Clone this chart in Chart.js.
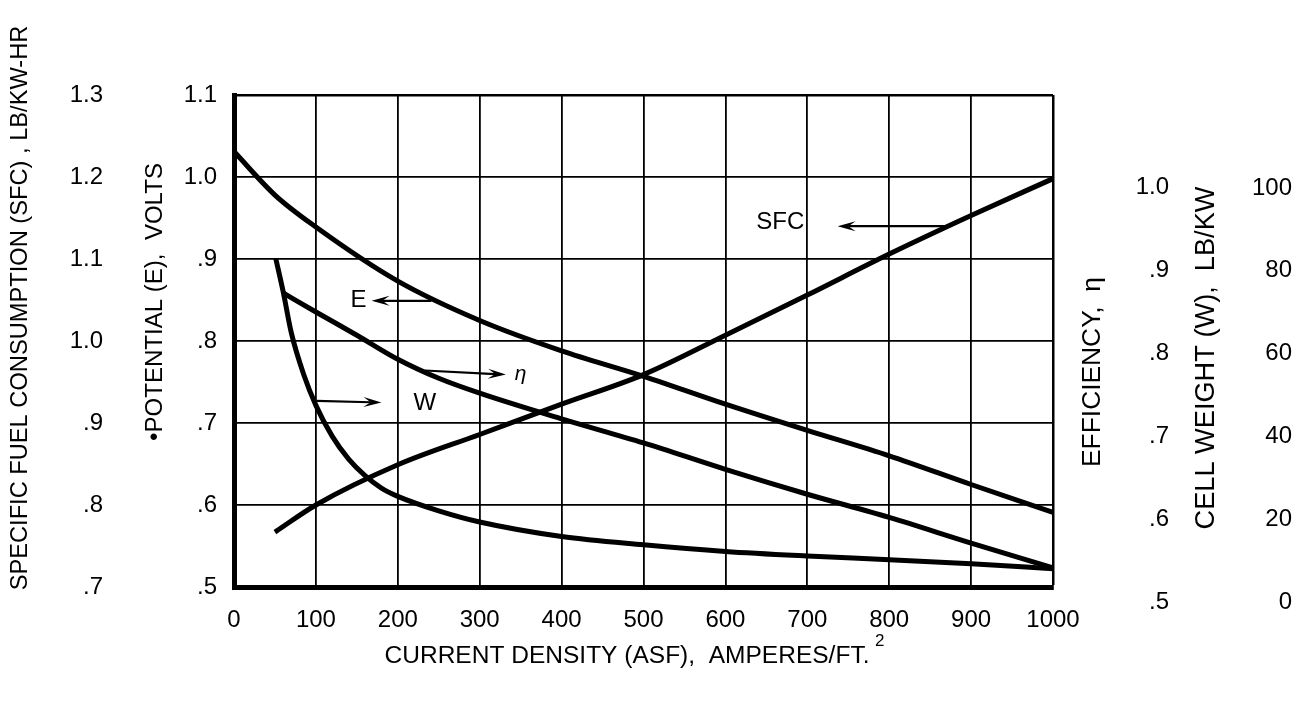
<!DOCTYPE html>
<html>
<head>
<meta charset="utf-8">
<script src="https://cdn.jsdelivr.net/npm/chart.js@4.4.1/dist/chart.umd.min.js"></script>
<style>
  html, body { margin: 0; padding: 0; background: #fff; }
  #wrap { width: 1303px; height: 704px; }
</style>
</head>
<body>
<div id="wrap"><canvas id="chart" width="1303" height="704"></canvas></div>
<script>
// current density (ASF) and the four curves
const asfE = [0, 50, 100, 200, 300, 400, 500, 600, 700, 800, 900, 1000];
const potentialE = [1.031, 0.978, 0.939, 0.873, 0.825, 0.788, 0.757, 0.723, 0.691, 0.660, 0.625, 0.591];

const asfSfc = [50, 100, 200, 300, 400, 500, 600, 700, 800, 900, 1000];
const sfcVals = [0.767, 0.800, 0.849, 0.886, 0.923, 0.959, 1.007, 1.056, 1.106, 1.153, 1.198];

const asfEff = [60, 100, 150, 200, 250, 300, 400, 500, 600, 700, 800, 900, 1000];
const effVals = [0.873, 0.850, 0.822, 0.793, 0.770, 0.752, 0.721, 0.692, 0.660, 0.630, 0.602, 0.571, 0.541];

const asfW = [51, 60, 70, 85, 100, 120, 140, 160, 180, 200, 250, 300, 400, 500, 600, 700, 800, 900, 1000];
const weightVals = [83, 75, 65, 55, 47.5, 40, 34.5, 30.5, 27.5, 25.5, 22, 19.3, 15.8, 13.8, 12.2, 11.1, 10.2, 9.2, 8.0];

// tick labels
const xTicks = [0, 100, 200, 300, 400, 500, 600, 700, 800, 900, 1000];
const eTickLabels = ['.5', '.6', '.7', '.8', '.9', '1.0', '1.1'];
const sfcTickLabels = ['.7', '.8', '.9', '1.0', '1.1', '1.2', '1.3'];
const effTicks = [0.5, 0.6, 0.7, 0.8, 0.9, 1.0];
const effTickLabels = ['.5', '.6', '.7', '.8', '.9', '1.0'];
const wTicks = [0, 20, 40, 60, 80, 100];

// curve labels with arrows, in (ASF, volts) coordinates
const notes = [
  { text: 'SFC', x: 667, y: 0.945, from: [868, 0.94], to: [737, 0.94] },
  { text: 'E', x: 152, y: 0.849, from: [241, 0.849], to: [168, 0.849] },
  { text: '\u03b7', x: 350, y: 0.760, from: [233, 0.764], to: [332, 0.759] },
  { text: 'W', x: 233, y: 0.724, from: [101, 0.727], to: [180, 0.725] }
];

const FONT = 'Liberation Sans';
const pts = (xs, ys) => xs.map((x, i) => ({ x: x, y: ys[i] }));

function curve(data, axis) {
  return {
    data: data,
    yAxisID: axis,
    borderColor: '#000',
    borderWidth: 5,
    pointRadius: 0,
    fill: false,
    cubicInterpolationMode: 'monotone'
  };
}

function fitText(ctx, text, cx, cy, len, rot) {
  ctx.save();
  ctx.font = '20px "' + FONT + '"';
  const w = ctx.measureText(text).width;
  const size = 20 * len / w;
  ctx.font = size.toFixed(2) + 'px "' + FONT + '"';
  ctx.translate(cx, cy);
  if (rot) ctx.rotate(-Math.PI / 2);
  ctx.fillStyle = '#000';
  ctx.textAlign = 'center';
  ctx.textBaseline = 'middle';
  ctx.fillText(text, 0, 0);
  ctx.restore();
}

function arrow(ctx, x1, y1, x2, y2) {
  const a = Math.atan2(y2 - y1, x2 - x1);
  const L = 18, H = 5;
  const c = Math.cos(a), s = Math.sin(a);
  ctx.beginPath();
  ctx.moveTo(x1, y1);
  ctx.lineTo(x2 - L * 0.6 * c, y2 - L * 0.6 * s);
  ctx.lineWidth = 2.2;
  ctx.stroke();
  ctx.beginPath();
  ctx.moveTo(x2, y2);
  ctx.lineTo(x2 - L * c + H * s, y2 - L * s - H * c);
  ctx.lineTo(x2 - L * 0.6 * c, y2 - L * 0.6 * s);
  ctx.lineTo(x2 - L * c - H * s, y2 - L * s + H * c);
  ctx.closePath();
  ctx.fill();
}

const decorations = {
  id: 'decorations',
  afterDatasetsDraw(chart) {
    const ctx = chart.ctx;
    const xs = chart.scales.x, ys = chart.scales.yE;
    ctx.save();
    ctx.fillStyle = '#000';
    ctx.strokeStyle = '#000';
    notes.forEach(n => {
      arrow(ctx, xs.getPixelForValue(n.from[0]), ys.getPixelForValue(n.from[1]),
        xs.getPixelForValue(n.to[0]), ys.getPixelForValue(n.to[1]));
      ctx.font = (n.text === '\u03b7' ? 'italic 21px "' : '24px "') + FONT + '"';
      ctx.textAlign = 'center';
      ctx.textBaseline = 'middle';
      ctx.fillText(n.text, xs.getPixelForValue(n.x), ys.getPixelForValue(n.y));
    });
    ctx.restore();
  },
  afterDraw(chart) {
    const ctx = chart.ctx;
    fitText(ctx, 'SPECIFIC FUEL CONSUMPTION (SFC) , LB/KW-HR', 20, 308, 565, true);
    fitText(ctx, '\u2022POTENTIAL (E),  VOLTS', 155, 302, 278, true);
    fitText(ctx, 'EFFICIENCY,  \u03b7', 1093, 372, 190, true);
    fitText(ctx, 'CELL WEIGHT (W),  LB/KW', 1207, 358, 343, true);
    fitText(ctx, 'CURRENT DENSITY (ASF),  AMPERES/FT.', 627, 656, 485, false);
    ctx.save();
    ctx.font = '17px "' + FONT + '"';
    ctx.fillStyle = '#000';
    ctx.textBaseline = 'middle';
    ctx.fillText('2', 875, 641);
    ctx.restore();
  }
};

const labelFrom = (vals, labels) => v => {
  const i = vals.findIndex(t => Math.abs(t - v) < 1e-6);
  return i >= 0 ? labels[i] : '';
};

const tickFont = { family: FONT, size: 24 };

new Chart(document.getElementById('chart'), {
  type: 'line',
  data: {
    datasets: [
      curve(pts(asfE, potentialE), 'yE'),
      curve(pts(asfSfc, sfcVals), 'ySfc'),
      curve(pts(asfEff, effVals), 'yEff'),
      curve(pts(asfW, weightVals), 'yW')
    ]
  },
  options: {
    responsive: false,
    animation: false,
    devicePixelRatio: 1,
    layout: { padding: { top: 95, left: 0, right: 11, bottom: 0 } },
    plugins: { legend: { display: false }, tooltip: { enabled: false } },
    scales: {
      x: {
        type: 'linear', min: 0, max: 1000,
        afterBuildTicks: s => { s.ticks = xTicks.map(v => ({ value: v })); },
        ticks: { font: tickFont, color: '#000', padding: 19, autoSkip: false, maxRotation: 0,
          callback: v => String(v) },
        grid: { color: '#000', lineWidth: c => (c.tick && c.tick.value === 1000 ? 2.5 : 1.8), drawTicks: false },
        border: { display: true, color: '#000', width: 5 },
        afterFit: s => { s.height = 117; }
      },
      yE: {
        type: 'linear', position: 'left', weight: 0, min: 0.5, max: 1.1,
        ticks: { stepSize: 0.1, font: tickFont, color: '#000', padding: 17, autoSkip: false,
          callback: v => eTickLabels[Math.round((v - 0.5) * 10)] },
        grid: { color: '#000', lineWidth: c => (c.tick && c.tick.value > 1.09 ? 2.5 : 1.8), drawTicks: false },
        border: { display: true, color: '#000', width: 5 },
        afterFit: s => { s.width = 109; }
      },
      ySfc: {
        type: 'linear', position: 'left', weight: 1, min: 0.7, max: 1.3,
        ticks: { stepSize: 0.1, font: tickFont, color: '#000', padding: 14, autoSkip: false,
          callback: v => sfcTickLabels[Math.round((v - 0.7) * 10)] },
        grid: { display: false },
        border: { display: false },
        afterFit: s => { s.width = 125; }
      },
      yEff: {
        type: 'linear', position: 'right', weight: 0, min: 0.518, max: 1.112,
        afterBuildTicks: s => { s.ticks = effTicks.map(v => ({ value: v })); },
        ticks: { font: tickFont, color: '#000', crossAlign: 'far', autoSkip: false,
          callback: labelFrom(effTicks, effTickLabels) },
        grid: { display: false },
        border: { display: false },
        afterFit: s => { s.width = 116; }
      },
      yW: {
        type: 'linear', position: 'right', weight: 1, min: 3.6, max: 122.5,
        afterBuildTicks: s => { s.ticks = wTicks.map(v => ({ value: v })); },
        ticks: { font: tickFont, color: '#000', crossAlign: 'far', autoSkip: false,
          callback: v => String(v) },
        grid: { display: false },
        border: { display: false },
        afterFit: s => { s.width = 123; }
      }
    }
  },
  plugins: [decorations]
});
</script>
</body>
</html>
